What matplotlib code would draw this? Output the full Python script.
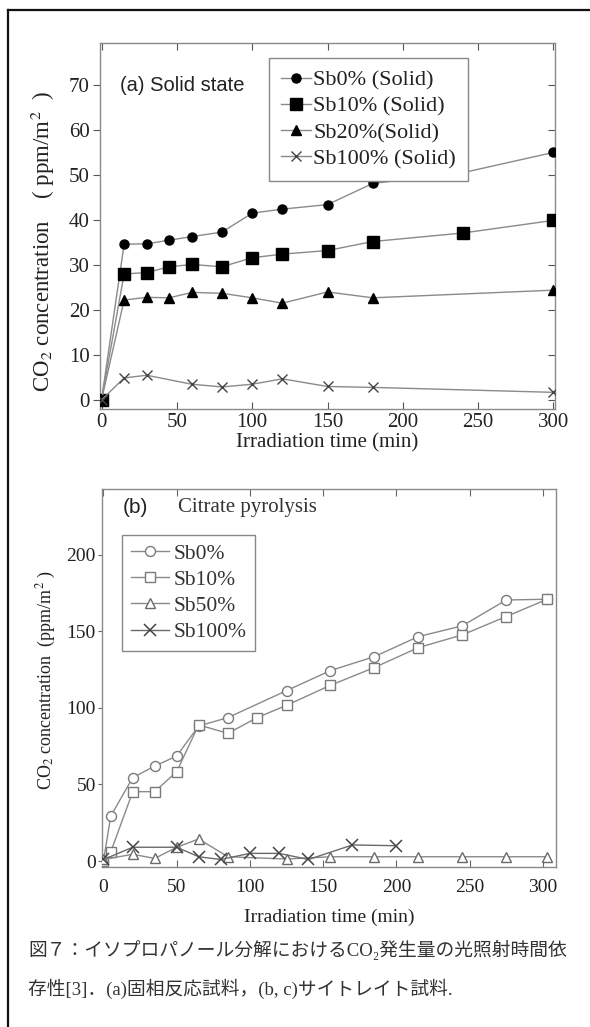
import matplotlib
matplotlib.use("Agg")
import matplotlib.pyplot as plt
from matplotlib.lines import Line2D

plt.rcParams['font.family'] = ['Liberation Serif', 'DejaVu Serif']
plt.rcParams['mathtext.fontset'] = 'stix'

# ---- Panel (a) data: Solid state ----
a_x_sb0 = [0, 15, 30, 45, 60, 80, 100, 120, 150, 180, 240, 300]
a_y_sb0 = [0, 34.6, 34.7, 35.5, 36.3, 37.3, 41.5, 42.4, 43.4, 48.1, 50.5, 55.0]
a_x_sb10 = [0, 15, 30, 45, 60, 80, 100, 120, 150, 180, 240, 300]
a_y_sb10 = [0, 28.0, 28.3, 29.6, 30.1, 29.6, 31.6, 32.4, 33.2, 35.2, 37.1, 39.9]
a_x_sb20 = [0, 15, 30, 45, 60, 80, 100, 120, 150, 180, 300]
a_y_sb20 = [0, 22.2, 22.8, 22.7, 23.9, 23.7, 22.7, 21.5, 24.0, 22.7, 24.4]
a_x_sb100 = [0, 15, 30, 60, 80, 100, 120, 150, 180, 300]
a_y_sb100 = [0, 4.9, 5.5, 3.5, 2.9, 3.5, 4.7, 3.0, 2.8, 1.7]
a_labels = ["Sb0% (Solid)", "Sb10% (Solid)", "Sb20%(Solid)", "Sb100% (Solid)"]
a_xticks = [0, 50, 100, 150, 200, 250, 300]
a_yticks = [0, 10, 20, 30, 40, 50, 60, 70]

# ---- Panel (b) data: Citrate pyrolysis ----
b_x_sb0 = [0, 5, 20, 35, 50, 65, 85, 125, 155, 185, 215, 245, 275, 303]
b_y_sb0 = [0, 29.4, 54.5, 62.0, 68.6, 88.2, 93.7, 111.3, 124.4, 133.5, 146.6, 153.6, 170.5, 171.0]
b_x_sb10 = [0, 5, 20, 35, 50, 65, 85, 105, 125, 155, 185, 215, 245, 275, 303]
b_y_sb10 = [0, 6.0, 45.3, 45.3, 58.4, 88.9, 83.4, 93.7, 101.7, 114.8, 126.4, 139.4, 147.7, 159.7, 171.0]
b_x_sb50 = [0, 20, 35, 50, 65, 85, 125, 155, 185, 215, 245, 275, 303]
b_y_sb50 = [1.0, 4.4, 1.7, 9.0, 14.4, 2.8, 1.3, 2.8, 2.8, 2.8, 2.8, 2.8, 2.8]
b_x_sb100 = [0, 20, 50, 65, 80, 100, 120, 140, 170, 200]
b_y_sb100 = [1.0, 9.0, 9.0, 2.8, 1.0, 5.0, 5.0, 1.0, 10.5, 10.0]
b_labels = ["Sb0%", "Sb10%", "Sb50%", "Sb100%"]
b_xticks = [0, 50, 100, 150, 200, 250, 300]
b_yticks = [0, 50, 100, 150, 200]

caption1 = "図７：イソプロパノール分解におけるCO₂発生量の光照射時間依"
caption2 = "存性[3]．(a)固相反応試料，(b, c)サイトレイト試料."

W, H = 590, 1027
fig = plt.figure(figsize=(W / 100, H / 100), dpi=100)

def fx(px):
    return px / W

def fy(py):
    return 1 - py / H

spine_c = '#8a8a8a'
line_c = '#8a8a8a'
ylabel_a = r"CO$_{2}$ concentration $\quad$( ppm/m$^{2}$  )"
ylabel_b = r"CO$_{2}$ concentration  (ppm/m$^{2}$ )"

# ---------------- Panel (a) ----------------
ax1 = fig.add_axes([fx(100), fy(409), (555 - 100) / W, (409 - 43) / H])
ax1.plot(a_x_sb0, a_y_sb0, '-', color=line_c, lw=1.0, marker='o', ms=6.5,
         mfc='black', mec='black', label=a_labels[0], zorder=3)
ax1.plot(a_x_sb10, a_y_sb10, '-', color=line_c, lw=1.0, marker='s', ms=8.2,
         mfc='black', mec='black', label=a_labels[1], zorder=3)
ax1.plot(a_x_sb20, a_y_sb20, '-', color=line_c, lw=1.0, marker='^', ms=7.0,
         mfc='black', mec='black', label=a_labels[2], zorder=3)
ax1.plot(a_x_sb100, a_y_sb100, '-', color=line_c, lw=1.0, marker='x', ms=7.0,
         mew=1.0, mfc='#444444', mec='#444444', label=a_labels[3], zorder=3)
ax1.set_xlim(-1, 301)
ax1.set_ylim(-2, 79.3)
ax1.set_xticks(a_xticks)
ax1.set_yticks(a_yticks)
ax1.tick_params(axis='both', labelsize=15, colors='#555555', labelcolor='#222222',
                length=5, width=0.8)
ax1.tick_params(axis='y', direction='out', right=True, pad=2.5)
ax1.tick_params(axis='x', direction='in', top=True, pad=3)
for t in ax1.yaxis.get_major_ticks():
    t.tick2line.set_marker(matplotlib.lines.TICKLEFT)
for s in ax1.spines.values():
    s.set_color(spine_c)
    s.set_linewidth(1.0)
ax1.set_xlabel("Irradiation time (min)", fontsize=15, color='#222222', labelpad=1)
ax1.set_ylabel(ylabel_a, fontsize=16.5, color='#222222')
ax1.yaxis.set_label_coords(-0.095, 0.459)
ax1.text(0.044, 0.885, "(a) Solid state", transform=ax1.transAxes,
         fontsize=14.5, family='Liberation Sans', color='#222222', va='center', ha='left')
leg1 = ax1.legend(loc='upper left', bbox_to_anchor=(0.371, 0.959), borderaxespad=0,
                  fontsize=16, frameon=True, fancybox=False, edgecolor='#888888',
                  handlelength=1.35, handletextpad=0.1, labelspacing=0.25,
                  borderpad=0.55, framealpha=1)
leg1.get_frame().set_linewidth(1.0)
for t in leg1.get_texts():
    t.set_color('#222222')

# ---------------- Panel (b) ----------------
ax2 = fig.add_axes([fx(102), fy(867), (556 - 102) / W, (867 - 489) / H])
ax2.plot(b_x_sb0, b_y_sb0, '-', color=line_c, lw=1.0, marker='o', ms=7.2,
         mfc='white', mec='#7a7a7a', mew=1.0, label=b_labels[0], zorder=3)
ax2.plot(b_x_sb10, b_y_sb10, '-', color=line_c, lw=1.0, marker='s', ms=7.2,
         mfc='white', mec='#7a7a7a', mew=1.0, label=b_labels[1], zorder=3)
ax2.plot(b_x_sb50, b_y_sb50, '-', color=line_c, lw=1.0, marker='^', ms=6.5,
         mfc='white', mec='#6a6a6a', mew=1.0, label=b_labels[2], zorder=3)
ax2.plot(b_x_sb100, b_y_sb100, '-', color='#6a6a6a', lw=1.0, marker='x', ms=8.0,
         mec='#444444', mew=1.1, label=b_labels[3], zorder=4)
ax2.set_xlim(-1, 309)
ax2.set_ylim(-3.9, 243)
ax2.set_xticks(b_xticks)
ax2.set_yticks(b_yticks)
ax2.tick_params(axis='both', labelsize=14, colors='#666666', labelcolor='#222222',
                length=5, width=0.8)
ax2.tick_params(axis='y', direction='out', length=3, pad=1.5)
ax2.tick_params(axis='x', direction='in', top=True, pad=9)
for s in ax2.spines.values():
    s.set_color(spine_c)
    s.set_linewidth(1.0)
ax2.set_xlabel("Irradiation time (min)", fontsize=14, color='#222222', labelpad=9)
ax2.set_ylabel(ylabel_b, fontsize=13, color='#222222')
ax2.yaxis.set_label_coords(-0.097, 0.495)
ax2.text(0.046, 0.95, "(b)", transform=ax2.transAxes, fontsize=15,
         family='Liberation Sans', color='#222222', va='center', ha='left')
ax2.text(0.167, 0.95, "Citrate pyrolysis", transform=ax2.transAxes, fontsize=15,
         color='#333333', va='center', ha='left')
leg2 = ax2.legend(loc='upper left', bbox_to_anchor=(0.044, 0.878), borderaxespad=0,
                  fontsize=15.5, frameon=True, fancybox=False, edgecolor='#888888',
                  handlelength=1.8, handletextpad=0.2, labelspacing=0.28,
                  borderpad=0.4, framealpha=1)
leg2.get_frame().set_linewidth(1.0)
for t in leg2.get_texts():
    t.set_color('#333333')

# ---------------- Frame ----------------
fig.add_artist(Line2D([fx(8), fx(8)], [fy(10), 0], transform=fig.transFigure,
                      color='#111111', lw=1.6))
fig.add_artist(Line2D([fx(8), 1], [fy(10), fy(10)], transform=fig.transFigure,
                      color='#111111', lw=1.6))

# ---------------- Caption ----------------
cap_font = ['Liberation Serif', 'Noto Sans CJK JP', 'DejaVu Sans']
fig.text(fx(28), fy(950), caption1, fontsize=13.5, family=cap_font,
         color='#333333', va='center', ha='left')
fig.text(fx(28), fy(989), caption2, fontsize=13.5, family=cap_font,
         color='#333333', va='center', ha='left')

fig.savefig("out.png", dpi=100)
